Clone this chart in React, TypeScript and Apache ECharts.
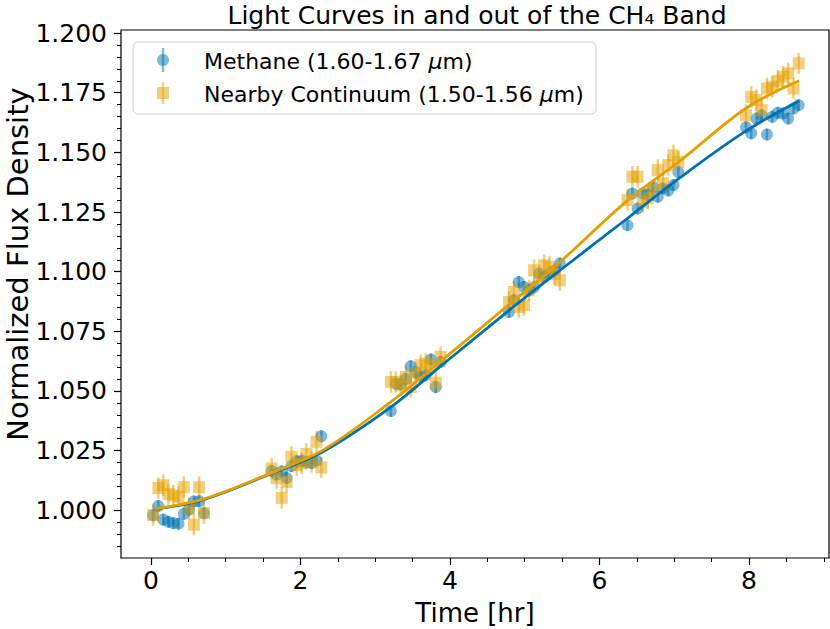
import React, { useEffect, useRef } from "react";
import * as echarts from "echarts";

// ---- data ----
const times = [
  0.03, 0.1, 0.165, 0.235, 0.3, 0.37, 0.44, 0.51, 0.575, 0.645, 0.71,
  1.615, 1.68, 1.75, 1.815, 1.88, 1.95, 2.015, 2.08, 2.15, 2.215, 2.28,
  3.21, 3.275, 3.34, 3.41, 3.475, 3.54, 3.61, 3.675, 3.745, 3.81, 3.875,
  4.79, 4.855, 4.92, 4.99, 5.06, 5.125, 5.195, 5.26, 5.33, 5.4, 5.47,
  6.375, 6.44, 6.51, 6.58, 6.645, 6.715, 6.78, 6.85, 6.92, 6.99, 7.055,
  7.96, 8.03, 8.1, 8.17, 8.24, 8.31, 8.385, 8.455, 8.525, 8.595, 8.665,
];
const methane = [
  0.9979, 1.0018, 0.9961, 0.9952, 0.9946, 0.9944, 0.9985, 1.0003, 1.0037, 1.0038, 0.9988,
  1.0165, 1.015, 1.0163, 1.0135, 1.0185, 1.0205, 1.0208, 1.02, 1.0198, 1.0208, 1.031,
  1.0416, 1.0531, 1.0528, 1.055, 1.0604, 1.058, 1.0559, 1.0566, 1.0632, 1.0517, 1.0622,
  1.0831, 1.088, 1.0957, 1.0936, 1.0922, 1.0935, 1.0992, 1.0978, 1.0992, 1.1005, 1.1034,
  1.1195, 1.1328, 1.1265, 1.1328, 1.1321, 1.1356, 1.1314, 1.1349, 1.134, 1.1363, 1.1418,
  1.1605, 1.158, 1.1642, 1.1655, 1.1575, 1.1649, 1.1666, 1.1663, 1.1642, 1.1684, 1.1698,
];
const continuum = [
  0.998, 1.0093, 1.0105, 1.0068, 1.0062, 1.0056, 1.0097, 1.0007, 0.994, 1.0097, 0.9988,
  1.0175, 1.0135, 1.0052, 1.0119, 1.0224, 1.0189, 1.0196, 1.0236, 1.0203, 1.0287, 1.018,
  1.0538, 1.0538, 1.0524, 1.0559, 1.0517, 1.0575, 1.0608, 1.0615, 1.0608, 1.0535, 1.0643,
  1.0873, 1.0915, 1.0852, 1.086, 1.0922, 1.1006, 1.0978, 1.1027, 1.102, 1.099, 1.0964,
  1.13, 1.1398, 1.1398, 1.1293, 1.1307, 1.1342, 1.1426, 1.137, 1.1447, 1.1488, 1.146,
  1.1656, 1.1733, 1.1719, 1.1677, 1.1768, 1.1775, 1.18, 1.1817, 1.1831, 1.1768, 1.1873,
];
const methaneErr = 0.0025;
const continuumErr = 0.0045;

const fitTimes = [0.05, 0.71, 1.62, 2.3, 3.2, 3.88, 4.8, 5.47, 6.38, 7.06, 7.96, 8.67];
const methaneFit = [1.0005, 1.0045, 1.0155, 1.0245, 1.043, 1.0605, 1.084, 1.1005, 1.1225, 1.139, 1.159, 1.1715];
const continuumFit = [1.0007, 1.0048, 1.0158, 1.0252, 1.0452, 1.0625, 1.0865, 1.104, 1.13, 1.146, 1.1685, 1.18];

const xTicks = [0, 2, 4, 6, 8];
const yTicks = [1.0, 1.025, 1.05, 1.075, 1.1, 1.125, 1.15, 1.175, 1.2];

const titleText = "Light Curves in and out of the CH₄ Band";
const xName = "Time [hr]";
const yName = "Normalized Flux Density";
const legendNames = ["Methane (1.60-1.67 {i|μ}m)", "Nearby Continuum (1.50-1.56 {i|μ}m)"];

// ---- style ----
const BLUE = "#0072B2";
const ORANGE = "#E69F00";
const FONT = "DejaVu Sans";
const X_MIN = -0.4;
const X_MAX = 9.07;
const Y_MIN = 0.98;
const Y_MAX = 1.2013;

const xMinor: number[] = [];
for (let k = 1; k <= 18; k++) if (k % 4 !== 0) xMinor.push(k * 0.5);
const yMinor: number[] = [];
for (let k = 197; k <= 240; k++) if (k % 5 !== 0) yMinor.push(k / 200);

function errSeries(vals: number[], err: number, color: string) {
  return {
    type: "custom",
    silent: true,
    xAxisIndex: 0,
    yAxisIndex: 0,
    data: times.map((t, i) => [t, vals[i] - err, vals[i] + err]),
    encode: { x: 0, y: [1, 2] },
    renderItem: (params: any, api: any) => {
      const x = api.value(0);
      const lo = api.coord([x, api.value(1)]);
      const hi = api.coord([x, api.value(2)]);
      return {
        type: "line",
        shape: { x1: lo[0], y1: lo[1], x2: hi[0], y2: hi[1] },
        style: { stroke: color, lineWidth: 2.5, opacity: 0.5 },
      };
    },
  };
}

export default function App() {
  const ref = useRef<HTMLDivElement>(null);
  useEffect(() => {
    const chart = echarts.init(ref.current!, null, { renderer: "svg" });
    const hiddenLine = { show: false, onZero: false };
    const option: any = {
      animation: false,
      textStyle: { fontFamily: FONT },
      grid: { left: 121, right: 1, top: 30, bottom: 71, show: true, borderColor: "#000", borderWidth: 1.2, backgroundColor: "transparent" },
      xAxis: [
        {
          type: "value", min: X_MIN, max: X_MAX, position: "bottom",
          axisLine: hiddenLine, splitLine: { show: false },
          axisTick: { show: true, customValues: xTicks, length: 7, lineStyle: { color: "#000", width: 1.2 } },
          axisLabel: { customValues: xTicks, fontSize: 25, color: "#000", fontFamily: FONT, margin: 10 },
        },
        {
          type: "value", min: X_MIN, max: X_MAX, position: "bottom",
          axisLine: hiddenLine, splitLine: { show: false },
          axisTick: { show: true, customValues: xMinor, length: 4, lineStyle: { color: "#000", width: 1 } },
          axisLabel: { show: false },
        },
      ],
      yAxis: [
        {
          type: "value", min: Y_MIN, max: Y_MAX, position: "left",
          axisLine: hiddenLine, splitLine: { show: false },
          axisTick: { show: true, customValues: yTicks, length: 7, lineStyle: { color: "#000", width: 1.2 } },
          axisLabel: { customValues: yTicks, fontSize: 25, color: "#000", fontFamily: FONT, margin: 14, formatter: (v: number) => v.toFixed(3) },
        },
        {
          type: "value", min: Y_MIN, max: Y_MAX, position: "left",
          axisLine: hiddenLine, splitLine: { show: false },
          axisTick: { show: true, customValues: yMinor, length: 4, lineStyle: { color: "#000", width: 1 } },
          axisLabel: { show: false },
        },
      ],
      series: [
        errSeries(methane, methaneErr, BLUE),
        {
          type: "scatter", silent: true, symbol: "circle", symbolSize: 12,
          data: times.map((t, i) => [t, methane[i]]),
          itemStyle: { color: BLUE, opacity: 0.5 },
        },
        errSeries(continuum, continuumErr, ORANGE),
        {
          type: "scatter", silent: true, symbol: "rect", symbolSize: 12,
          data: times.map((t, i) => [t, continuum[i]]),
          itemStyle: { color: ORANGE, opacity: 0.5 },
        },
        {
          type: "line", silent: true, showSymbol: false, symbol: "none", smooth: 0.35,
          data: fitTimes.map((t, i) => [t, methaneFit[i]]),
          lineStyle: { color: BLUE, width: 2.8 },
        },
        {
          type: "line", silent: true, showSymbol: false, symbol: "none", smooth: 0.35,
          data: fitTimes.map((t, i) => [t, continuumFit[i]]),
          lineStyle: { color: ORANGE, width: 2.8 },
        },
      ],
      graphic: [
        {
          type: "text", x: 477, y: 15,
          style: {
            text: titleText, fontSize: 25, fontFamily: FONT, fill: "#000",
            align: "center", verticalAlign: "middle",
          },
        },
        {
          type: "text", x: 475, y: 613,
          style: { text: xName, fontSize: 26, fontFamily: FONT, fill: "#000", align: "center", verticalAlign: "middle" },
        },
        {
          type: "text", x: 17.5, y: 264, rotation: Math.PI / 2,
          style: { text: yName, fontSize: 29, fontFamily: FONT, fill: "#000", align: "center", verticalAlign: "middle" },
        },
        {
          type: "rect", shape: { x: 133, y: 42, width: 463, height: 72, r: 5 },
          style: { fill: "rgba(255,255,255,0.8)", stroke: "#cccccc", lineWidth: 1 },
        },
        { type: "line", shape: { x1: 163, y1: 48, x2: 163, y2: 72 }, style: { stroke: BLUE, lineWidth: 2.5, opacity: 0.5 } },
        { type: "circle", shape: { cx: 163, cy: 60, r: 6 }, style: { fill: BLUE, opacity: 0.5 } },
        { type: "line", shape: { x1: 163, y1: 82, x2: 163, y2: 104 }, style: { stroke: ORANGE, lineWidth: 2.5, opacity: 0.5 } },
        { type: "rect", shape: { x: 157, y: 87, width: 12, height: 12 }, style: { fill: ORANGE, opacity: 0.5 } },
        {
          type: "text", x: 204, y: 61,
          style: { text: legendNames[0], fontSize: 22, fontFamily: FONT, fill: "#000", align: "left", verticalAlign: "middle",
            rich: { i: { fontStyle: "italic", fontSize: 22, fontFamily: FONT, fill: "#000" } } },
        },
        {
          type: "text", x: 204, y: 94,
          style: { text: legendNames[1], fontSize: 22, fontFamily: FONT, fill: "#000", align: "left", verticalAlign: "middle",
            rich: { i: { fontStyle: "italic", fontSize: 22, fontFamily: FONT, fill: "#000" } } },
        },
      ],
    };
    chart.setOption(option);
    return () => chart.dispose();
  }, []);
  return <div ref={ref} style={{ position: "absolute", left: 0, top: 0, width: 830, height: 629 }} />;
}
